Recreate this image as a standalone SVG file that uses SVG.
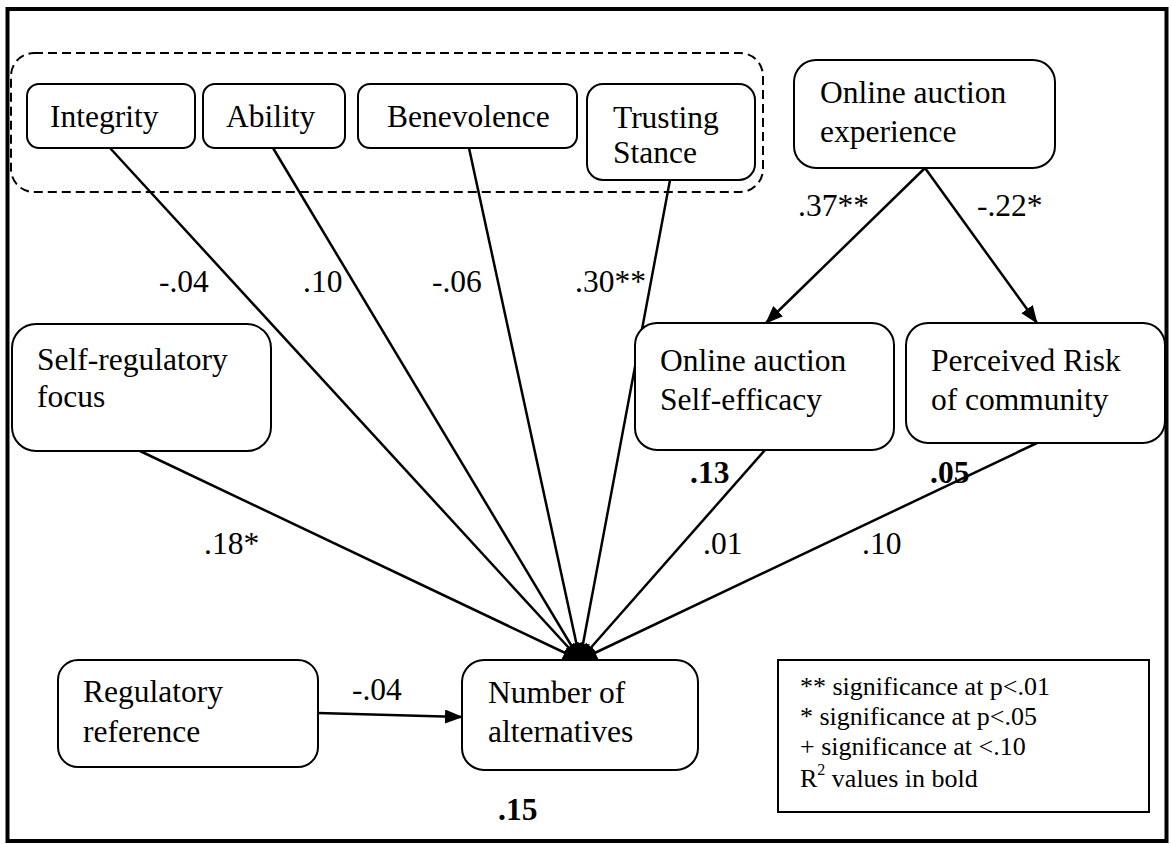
<svg xmlns="http://www.w3.org/2000/svg" width="1171" height="844" viewBox="0 0 1171 844">
  <style>
    text { font-family: 'Liberation Serif', 'Times New Roman', 'DejaVu Serif', serif; font-size: 31.5px; fill: #000; }
    .box { fill: #fff; stroke: #000; stroke-width: 2; }
    .edge { stroke: #000; stroke-width: 2.5; fill: none; }
    .bold { font-weight: bold; }
    .legend text { font-size: 26px; }
  </style>
  <defs>
    <marker id="arrow" markerUnits="userSpaceOnUse" markerWidth="18" markerHeight="14" refX="17" refY="7" orient="auto">
      <path d="M0,0 L18,7 L0,14 z" fill="#000"/>
    </marker>
  </defs>

  <rect x="0" y="0" width="1171" height="844" fill="#fff"/>
  <!-- outer frame -->
  <rect x="7.5" y="9" width="1159" height="832" fill="none" stroke="#000" stroke-width="4"/>

  <!-- trust dimensions grouping -->
  <rect id="trust-group" x="11" y="53" width="752" height="139" rx="23" fill="none" stroke="#000" stroke-width="2" stroke-dasharray="9 5"/>

  <g id="connectors">
    <line class="edge" x1="110" y1="148" x2="580" y2="660" marker-end="url(#arrow)"/>
    <line class="edge" x1="273" y1="148" x2="580" y2="660" marker-end="url(#arrow)"/>
    <line class="edge" x1="469" y1="148" x2="580" y2="660" marker-end="url(#arrow)"/>
    <line class="edge" x1="670" y1="180" x2="580" y2="660" marker-end="url(#arrow)"/>
    <line class="edge" x1="140" y1="451" x2="580" y2="660" marker-end="url(#arrow)"/>
    <line class="edge" x1="765" y1="450" x2="580" y2="660" marker-end="url(#arrow)"/>
    <line class="edge" x1="1037" y1="443" x2="580" y2="660" marker-end="url(#arrow)"/>
    <line class="edge" x1="925" y1="168" x2="766" y2="323" marker-end="url(#arrow)"/>
    <line class="edge" x1="925" y1="168" x2="1037" y2="323" marker-end="url(#arrow)"/>
    <line class="edge" x1="318" y1="713" x2="462" y2="717" marker-end="url(#arrow)"/>
  </g>

  <g id="integrity">
    <rect class="box" x="27" y="84" width="168" height="64" rx="12"/>
    <text x="50" y="127">Integrity</text>
  </g>
  <g id="ability">
    <rect class="box" x="203" y="84" width="142" height="64" rx="12"/>
    <text x="226" y="127">Ability</text>
  </g>
  <g id="benevolence">
    <rect class="box" x="358" y="84" width="219" height="64" rx="12"/>
    <text x="387" y="127">Benevolence</text>
  </g>
  <g id="trusting-stance">
    <rect class="box" x="587" y="84" width="168" height="96" rx="16"/>
    <text x="613" y="128">Trusting</text>
    <text x="613" y="163">Stance</text>
  </g>
  <g id="auction-experience">
    <rect class="box" x="794" y="60" width="261" height="108" rx="22"/>
    <text x="820" y="103">Online auction</text>
    <text x="820" y="142">experience</text>
  </g>
  <g id="self-regulatory-focus">
    <rect class="box" x="12" y="324" width="259" height="127" rx="24"/>
    <text x="37" y="370">Self-regulatory</text>
    <text x="37" y="407">focus</text>
  </g>
  <g id="self-efficacy">
    <rect class="box" x="635" y="323" width="259" height="127" rx="22"/>
    <text x="660" y="371">Online auction</text>
    <text x="660" y="410">Self-efficacy</text>
  </g>
  <g id="perceived-risk">
    <rect class="box" x="906" y="323" width="259" height="120" rx="22"/>
    <text x="931" y="371">Perceived Risk</text>
    <text x="931" y="410">of community</text>
  </g>
  <g id="number-of-alternatives">
    <rect class="box" x="462" y="660" width="236" height="110" rx="22"/>
    <text x="488" y="703">Number of</text>
    <text x="488" y="742">alternatives</text>
  </g>
  <g id="regulatory-reference">
    <rect class="box" x="58" y="660" width="260" height="107" rx="20"/>
    <text x="83" y="702">Regulatory</text>
    <text x="83" y="742">reference</text>
  </g>

  <!-- path coefficients -->
  <g id="coefficients">
    <text x="159" y="292">-.04</text>
    <text x="303" y="292">.10</text>
    <text x="432" y="292">-.06</text>
    <text x="575" y="292">.30**</text>
    <text x="798" y="216">.37**</text>
    <text x="977" y="216">-.22*</text>
    <text x="204" y="554">.18*</text>
    <text x="703" y="554">.01</text>
    <text x="862" y="554">.10</text>
    <text x="352" y="700">-.04</text>
  </g>
  <!-- R squared values -->
  <g id="r-squared">
    <text class="bold" x="690" y="483">.13</text>
    <text class="bold" x="930" y="483">.05</text>
    <text class="bold" x="498" y="820">.15</text>
  </g>

  <g id="legend" class="legend">
    <rect x="778" y="660" width="371" height="152" fill="#fff" stroke="#000" stroke-width="2"/>
    <text x="800" y="695">** significance at p&lt;.01</text>
    <text x="800" y="725">* significance at p&lt;.05</text>
    <text x="800" y="755">+ significance at &lt;.10</text>
    <text x="800" y="787">R<tspan font-size="16" dy="-12">2</tspan><tspan dy="12"> values in bold</tspan></text>
  </g>
</svg>
